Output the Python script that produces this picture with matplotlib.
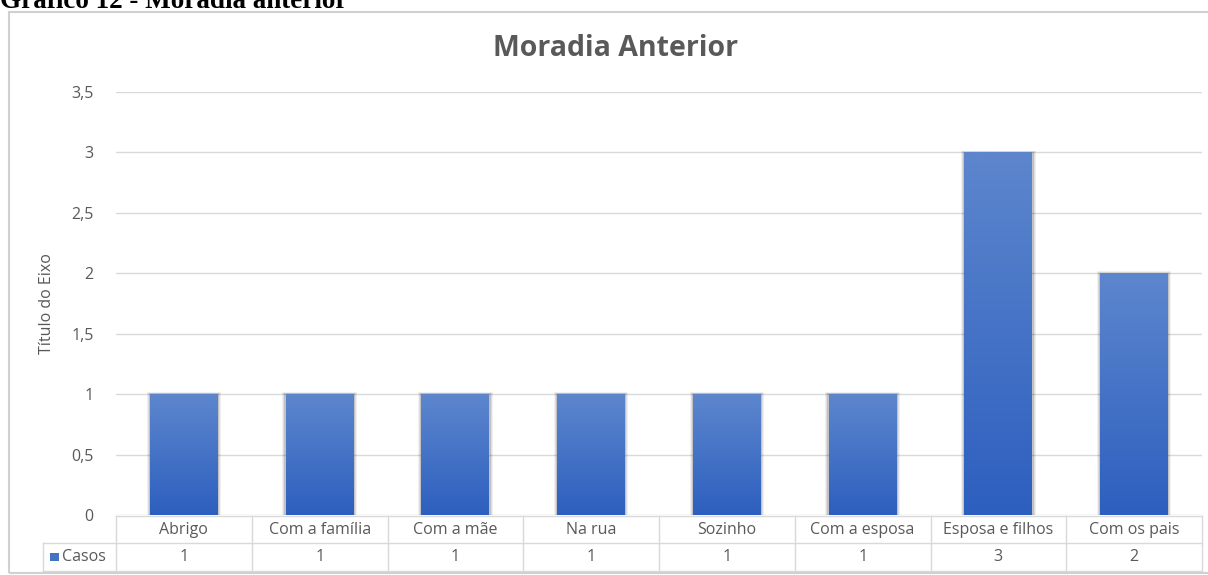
import numpy as np
import matplotlib
matplotlib.use("Agg")
import matplotlib.pyplot as plt
from matplotlib.patches import Rectangle
import matplotlib.transforms as mtransforms
from matplotlib.colors import LinearSegmentedColormap

categories = ["Abrigo", "Com a família", "Com a mãe", "Na rua", "Sozinho",
              "Com a esposa", "Esposa e filhos", "Com os pais"]
casos = [1, 1, 1, 1, 1, 1, 3, 2]
series_name = "Casos"
yticks = [0, 0.5, 1, 1.5, 2, 2.5, 3, 3.5]
ytick_labels = ["0", "0,5", "1", "1,5", "2", "2,5", "3", "3,5"]

W, H = 1208, 575
fig = plt.figure(figsize=(W / 100, H / 100), dpi=100)
fig.patch.set_facecolor("white")

FONT = ["Open Sans", "DejaVu Sans"]
GRAY = "#595959"
FS = 11.5

def fx(px):
    return px / W

def fy(py):
    return 1 - py / H

# Header text (cut at top, as in the reference)
fig.text(fx(0), fy(8), "Gráfico 12 - Moradia anterior", family=["Liberation Serif"],
         fontweight="bold", fontsize=19.5, va="baseline", ha="left", color="black")

# chart frame
frame = Rectangle((fx(9), fy(573)), fx(1208) - fx(9) + 0.01, fy(12) - fy(573),
                  transform=fig.transFigure, fill=False, edgecolor="#d0d0d0", lw=1.5)
fig.add_artist(frame)

left, right, top, bottom = 116, 1202, 92, 515
ax = fig.add_axes([fx(left), fy(bottom), fx(right) - fx(left), fy(top) - fy(bottom)])
for s in ax.spines.values():
    s.set_visible(False)
ax.set_yticks(yticks)
ax.set_yticklabels(ytick_labels, family=FONT, fontsize=FS, color=GRAY)
ax.tick_params(axis="y", length=0, pad=16)
ax.set_xticks([])
ax.grid(axis="y", color="#d9d9d9", lw=1)
ax.set_axisbelow(True)
ax.set_ylabel("Título do Eixo", family=FONT, fontsize=FS, color=GRAY, labelpad=12)

grad = np.linspace(0, 1, 256).reshape(-1, 1)
cmap = LinearSegmentedColormap.from_list("g", ["#2d5fbf", "#5d86cd"])
xs = np.arange(len(categories))
bw = 0.5
bars = ax.bar(xs, casos, width=bw, color="#4472c4", zorder=2)
for b in bars:
    x0, w, h = b.get_x(), b.get_width(), b.get_height()
    for k, a in [(0.025, 0.06), (0.017, 0.08), (0.009, 0.12)]:
        ax.add_patch(Rectangle((x0 - k, 0), w + 2 * k, h + k * 0.6, color="black",
                               alpha=a, lw=0, zorder=1.5))
    b.set_visible(False)
    ax.imshow(grad, extent=[x0, x0 + w, 0, h], origin="lower", cmap=cmap,
              aspect="auto", zorder=2, interpolation="bilinear")
ax.set_xlim(-0.5, len(categories) - 0.5)
ax.set_ylim(0, 3.5)

fig.text(fx(616), fy(48), "Moradia Anterior", family=FONT,
         fontweight="bold", fontsize=20.5, color=GRAY, ha="center", va="center")

# data table
trans = mtransforms.blended_transform_factory(ax.transData, fig.transFigure)
LC = "#d9d9d9"
row1, row2, row3 = 516, 543, 571
xl = -0.5 - (left - 43) / (right - left) * len(categories)
ax.plot([-0.5, 7.5], [fy(row1)] * 2, transform=trans, color=LC, lw=1, clip_on=False)
ax.plot([xl, 7.5], [fy(row2)] * 2, transform=trans, color=LC, lw=1, clip_on=False)
ax.plot([xl, 7.5], [fy(row3)] * 2, transform=trans, color=LC, lw=1, clip_on=False)
ax.plot([xl, xl], [fy(row2), fy(row3)], transform=trans, color=LC, lw=1, clip_on=False)
for i in range(len(categories) + 1):
    ax.plot([i - 0.5] * 2, [fy(row1), fy(row3)], transform=trans, color=LC, lw=1, clip_on=False)
for i, (c, v) in enumerate(zip(categories, casos)):
    ax.text(i, fy((row1 + row2) / 2), c, transform=trans, ha="center", va="center",
            family=FONT, fontsize=FS, color=GRAY)
    ax.text(i, fy((row2 + row3) / 2), str(v), transform=trans, ha="center", va="center",
            family=FONT, fontsize=FS, color=GRAY)
fig.add_artist(Rectangle((fx(50), fy(561)), fx(9), fy(553) - fy(561),
                         transform=fig.transFigure, color="#4472c4", lw=0))
fig.text(fx(62), fy((row2 + row3) / 2), series_name, family=FONT, fontsize=FS,
         color=GRAY, ha="left", va="center")

fig.savefig("out.png", dpi=100)
